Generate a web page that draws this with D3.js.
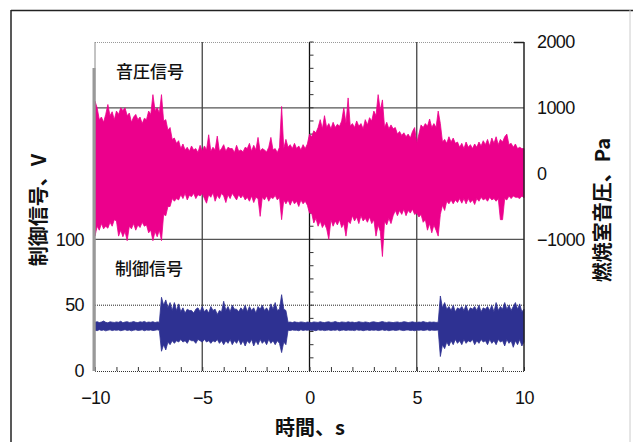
<!DOCTYPE html>
<html>
<head>
<meta charset="utf-8">
<script src="https://cdn.jsdelivr.net/npm/d3@7"></script>
<style>
  html, body { margin: 0; padding: 0; background: #fff; }
  svg { display: block; }
  .num { font-family: "Liberation Sans", Arial, sans-serif; font-size: 18px; fill: #111; letter-spacing: -0.6px; }
  .cjk { font-family: "Noto Sans CJK JP", sans-serif; fill: #111; }
</style>
</head>
<body>
<svg id="chart" width="633" height="442"></svg>
<script>
// ---- Data ----
const timeStart = -10;      // s
const timeStep = 0.1;       // s between samples

// Combustion chamber sound pressure envelope, Pa (upper / lower)
const pressureHigh = [
  1100, 1000, 820, 860, 780, 900, 1050, 880, 940, 820,
  950, 900, 1000, 960, 1000, 880, 920, 780, 860, 900,
  820, 860, 760, 840, 820, 950, 900, 1200, 960, 1000,
  920, 1200, 800, 820, 660, 700, 520, 540, 460, 500,
  380, 450, 360, 400, 340, 420, 360, 380, 320, 430,
  340, 420, 360, 590, 340, 400, 360, 570, 340, 380,
  440, 340, 400, 380, 380, 320, 430, 340, 360, 330,
  400, 380, 460, 340, 430, 360, 550, 340, 380, 360,
  330, 400, 550, 360, 380, 320, 400, 1020, 380, 520,
  400, 440, 380, 460, 380, 420, 360, 440, 380, 450,
  600, 560, 650, 620, 700, 820, 680, 880, 700, 760,
  680, 780, 700, 750, 720, 800, 1000, 760, 1150, 720,
  760, 700, 800, 720, 760, 680, 820, 740, 850, 800,
  950, 880, 1200, 960, 1120, 700, 780, 680, 740, 680,
  700, 600, 640, 580, 620, 560, 600, 540, 640, 700,
  460, 600, 740, 700, 760, 720, 830, 700, 760, 700,
  950, 760, 480, 520, 460, 560, 480, 540, 460, 480,
  400, 460, 380, 480, 400, 440, 380, 450, 400, 480,
  420, 500, 440, 520, 420, 540, 460, 560, 440, 520,
  480, 560, 600, 440, 460, 400, 450, 380, 400, 380,
  380
];
const pressureLow = [
  -950, -800, -860, -760, -840, -800, -830, -740, -800, -700,
  -720, -950, -860, -960, -880, -1020, -800, -840, -760, -860,
  -780, -820, -740, -800, -780, -900, -860, -1020, -880, -960,
  -860, -1020, -620, -640, -500, -500, -380, -420, -380, -400,
  -320, -380, -300, -400, -330, -350, -300, -380, -320, -340,
  -300, -380, -450, -320, -360, -290, -420, -330, -380, -300,
  -340, -440, -320, -380, -300, -350, -400, -320, -370, -330,
  -400, -360, -420, -340, -440, -360, -380, -650, -360, -400,
  -340, -420, -360, -380, -330, -400, -360, -700, -400, -460,
  -400, -480, -400, -460, -420, -500, -400, -460, -420, -480,
  -600, -600, -750, -680, -800, -720, -820, -760, -840, -1000,
  -700, -800, -720, -780, -700, -820, -760, -950, -720, -760,
  -640, -720, -660, -760, -640, -720, -680, -740, -660, -760,
  -700, -950, -780, -880, -1260, -720, -780, -680, -760, -640,
  -560, -640, -560, -620, -540, -640, -560, -600, -540, -620,
  -600, -660, -620, -740, -700, -860, -760, -900, -780, -860,
  -950, -620, -480, -560, -420, -460, -400, -460, -400, -440,
  -380, -450, -380, -460, -380, -440, -400, -470, -380, -420,
  -360, -400, -380, -420, -360, -400, -380, -420, -380, -700,
  -700, -380, -400, -340, -380, -340, -360, -360, -380, -340,
  -370
];

// Control signal envelope, V (upper / lower)
const controlHigh = [
  37, 37.5, 36.8, 37.2, 38, 37, 36.6, 37.4, 37.1, 36.9,
  37.3, 37, 37.8, 36.7, 37.2, 37.5, 36.9, 37.1, 37.6, 37,
  36.8, 37.4, 37.1, 37.7, 36.9, 37.2, 37, 37.5, 36.8, 37.3,
  37.1, 56, 50, 54, 48, 52, 46, 52, 46, 51,
  45, 48, 44, 47, 46, 46, 44, 47, 48, 45,
  49, 45, 47, 44, 49, 46, 47, 43, 46, 45,
  53, 46, 49, 45, 50, 47, 47, 45, 48, 46,
  50, 45, 49, 46, 48, 44, 49, 47, 50, 46,
  48, 45, 51, 47, 52, 46, 47, 58, 47, 46,
  37, 37.2, 36.8, 37.4, 37, 36.9, 37.3, 37.1, 36.7, 37.2,
  37, 36.8, 37.3, 37.1, 36.9, 37.5, 37, 36.8, 37.2, 37.4,
  36.9, 37.1, 37.6, 37, 36.8, 37.3, 37.1, 36.9, 37.4, 37,
  37.2, 36.8, 37, 37.5, 37.1, 36.9, 37.3, 37, 36.7, 37.2,
  37.4, 37, 36.8, 37.2, 37.6, 37.1, 36.9, 37.3, 37, 36.8,
  37.1, 37.3, 36.9, 37, 37.5, 37.2, 36.8, 37.1, 37.4, 37,
  36.9, 37.2, 37, 37.6, 37.1, 36.8, 37.3, 37, 37.2, 36.9,
  37.1, 57, 48, 52, 47, 49, 46, 50, 45, 48,
  47, 49, 46, 50, 45, 48, 47, 49, 46, 50,
  45, 48, 47, 49, 46, 50, 45, 52, 46, 49,
  47, 52, 47, 50, 46, 49, 52, 47, 51, 45,
  47
];
const controlLow = [
  31, 30.6, 31.4, 30.8, 31.2, 30.5, 31, 31.3, 30.7, 31.1,
  30.9, 31.2, 30.6, 31, 31.4, 30.8, 31.1, 30.5, 31, 31.3,
  30.8, 31, 31.3, 30.6, 31.1, 30.9, 31.2, 30.7, 31, 31.3,
  30.9, 15, 20, 16, 22, 20, 23, 21, 23, 22,
  24, 22, 23, 21, 24, 23, 23, 21, 24, 23,
  22, 24, 22, 23, 21, 23, 22, 24, 21, 23,
  20, 23, 21, 24, 20, 23, 21, 24, 20, 23,
  19, 23, 21, 24, 19, 23, 20, 24, 21, 23,
  20, 24, 21, 23, 20, 23, 21, 14, 22, 20,
  31, 30.7, 31.2, 30.9, 31, 30.6, 31.3, 30.8, 31.1, 30.9,
  31.2, 30.8, 31, 30.6, 31.3, 30.9, 31.1, 30.7, 31, 31.2,
  30.8, 31.1, 30.9, 31.3, 30.6, 31, 31.2, 30.8, 31.1, 30.9,
  31, 30.7, 31.3, 30.9, 31.1, 30.6, 31, 31.2, 30.8, 31.1,
  30.9, 31.2, 30.7, 31, 31.3, 30.8, 31.1, 30.6, 31, 31.2,
  30.8, 31, 31.3, 30.9, 30.7, 31.1, 31.2, 30.8, 31, 30.6,
  31.1, 30.9, 31.2, 30.8, 31, 31.3, 30.7, 31.1, 30.9, 31,
  31.2, 11, 20, 17, 22, 19, 23, 20, 24, 21,
  23, 20, 24, 21, 23, 22, 24, 20, 23, 21,
  24, 22, 23, 20, 24, 21, 23, 20, 24, 22,
  23, 19, 24, 21, 23, 18, 23, 20, 24, 19,
  22
];

const timeTicks = [-10, -5, 0, 5, 10];
const timeMinorTicks = d3.range(-10, 11, 1);
const voltTicks = [0, 50, 100];
const pressureTicks = [-1000, 0, 1000, 2000];

const xTitle = "時間、s";
const yLeftTitle = "制御信号、V";
const yRightTitle = "燃焼室音圧、Pa";
const pressureLabel = "音圧信号";
const controlLabel = "制御信号";

const pinkColor = "#ec008c";
const navyColor = "#2e3192";

// ---- Chart ----
const svg = d3.select("#chart");
const L = 95, R = 524, T = 42, B = 371;

const x = d3.scaleLinear().domain([-10, 10]).range([L, R]);
const yP = d3.scaleLinear().domain([-3000, 2000]).range([B, T]);
const yV = d3.scaleLinear().domain([0, 250]).range([B, T]);

const pData = pressureHigh.map((h, i) => ({ t: timeStart + i * timeStep, hi: h, lo: pressureLow[i] }));
const vData = controlHigh.map((h, i) => ({ t: timeStart + i * timeStep, hi: h, lo: controlLow[i] }));

// outer frame
svg.append("line").attr("x1", 11).attr("x2", 11).attr("y1", 10).attr("y2", 442).attr("stroke", "#222").attr("stroke-width", 1.5);
svg.append("line").attr("x1", 11).attr("x2", 633).attr("y1", 10.5).attr("y2", 10.5).attr("stroke", "#222").attr("stroke-width", 1.5);
svg.append("line").attr("x1", 630).attr("x2", 630).attr("y1", 10).attr("y2", 442).attr("stroke", "#ccc").attr("stroke-width", 1);

const g = svg.append("g");

// top border (dotted)
g.append("line").attr("x1", L).attr("x2", R).attr("y1", T + 0.5).attr("y2", T + 0.5)
  .attr("stroke", "#999").attr("stroke-dasharray", "1,1");

// horizontal grid lines
[1000, -1000].forEach(v => {
  g.append("line").attr("x1", L).attr("x2", R).attr("y1", yP(v)).attr("y2", yP(v))
    .attr("stroke", "#555").attr("stroke-width", 1.2);
});
g.append("line").attr("x1", L).attr("x2", R).attr("y1", yV(50)).attr("y2", yV(50))
  .attr("stroke", "#222").attr("stroke-width", 1).attr("stroke-dasharray", "1,1");

// vertical grid lines
[-5, 0, 5].forEach(t => {
  g.append("line").attr("x1", x(t)).attr("x2", x(t)).attr("y1", T).attr("y2", B)
    .attr("stroke", t === 0 ? "#111" : "#444").attr("stroke-width", 1.3);
});

// minor ticks along the x=0 line
const pMinor = d3.range(-1000, 2001, 200);
const vMinor = d3.range(10, 100, 10);
g.selectAll(".pm").data(pMinor).join("line")
  .attr("x1", x(0)).attr("x2", x(0) + 4).attr("y1", d => yP(d)).attr("y2", d => yP(d))
  .attr("stroke", "#333").attr("stroke-width", 1);
g.selectAll(".vm").data(vMinor).join("line")
  .attr("x1", x(0)).attr("x2", x(0) + 4).attr("y1", d => yV(d)).attr("y2", d => yV(d))
  .attr("stroke", "#333").attr("stroke-width", 1);

// data areas
const pArea = d3.area().x(d => x(d.t)).y0(d => yP(d.lo)).y1(d => yP(d.hi));
const vArea = d3.area().x(d => x(d.t)).y0(d => yV(d.lo)).y1(d => yV(d.hi));
g.append("path").datum(pData).attr("d", pArea).attr("fill", pinkColor).attr("stroke", pinkColor).attr("stroke-width", 0.8);
g.append("path").datum(vData).attr("d", vArea).attr("fill", navyColor).attr("stroke", navyColor).attr("stroke-width", 0.8);

// bottom axis line with minor ticks
const xMinor = d3.axisBottom(x).tickValues(timeMinorTicks).tickSize(-4).tickFormat("");
const xm = g.append("g").attr("transform", `translate(0,${B})`).call(xMinor);
xm.select(".domain").attr("stroke", "#333").attr("stroke-dasharray", "1,1");
xm.selectAll(".tick line").attr("stroke", "#333");

// left axis line (gray thick)
g.append("line").attr("x1", L).attr("x2", L).attr("y1", T).attr("y2", B).attr("stroke", "#888").attr("stroke-width", 1);
g.append("line").attr("x1", L - 1).attr("x2", L - 1).attr("y1", 68).attr("y2", B).attr("stroke", "#999").attr("stroke-width", 3);
// right axis line
g.append("line").attr("x1", R).attr("x2", R).attr("y1", T).attr("y2", B).attr("stroke", "#222").attr("stroke-width", 1.5);
g.append("line").attr("x1", R - 10).attr("x2", R).attr("y1", T + 0.5).attr("y2", T + 0.5).attr("stroke", "#222").attr("stroke-width", 1.5);

// tick labels
const numFmt = d3.format("d");
const xAx = d3.axisBottom(x).tickValues(timeTicks).tickSize(0).tickPadding(20).tickFormat(numFmt);
const xa = svg.append("g").attr("transform", `translate(0,${B})`).call(xAx);
xa.select(".domain").remove();
xa.selectAll("text").attr("class", "num").attr("font-size", null).attr("font-family", null).attr("fill", null);

const yLAx = d3.axisLeft(yV).tickValues(voltTicks).tickSize(0).tickPadding(11).tickFormat(numFmt);
const yla = svg.append("g").attr("transform", `translate(${L},0)`).call(yLAx);
yla.select(".domain").remove();
yla.selectAll("text").attr("class", "num").attr("font-size", null).attr("font-family", null).attr("fill", null);

const yRAx = d3.axisRight(yP).tickValues(pressureTicks).tickSize(0).tickPadding(13).tickFormat(numFmt);
const yra = svg.append("g").attr("transform", `translate(${R},0)`).call(yRAx);
yra.select(".domain").remove();
yra.selectAll("text").attr("class", "num").attr("font-size", null).attr("font-family", null).attr("fill", null);

// titles
svg.append("text").attr("class", "cjk").attr("x", 310).attr("y", 435)
  .attr("text-anchor", "middle").attr("font-size", 20).attr("font-weight", 700).text(xTitle);
svg.append("text").attr("class", "cjk").attr("transform", "translate(46,210) rotate(-90)")
  .attr("text-anchor", "middle").attr("font-size", 20).attr("font-weight", 700).text(yLeftTitle);
svg.append("text").attr("class", "cjk").attr("transform", "translate(610,210) rotate(-90)")
  .attr("text-anchor", "middle").attr("font-size", 20).attr("font-weight", 700).text(yRightTitle);

// inner labels
svg.append("text").attr("class", "cjk").attr("x", 116).attr("y", 78)
  .attr("font-size", 17).attr("font-weight", 500).text(pressureLabel);
svg.append("text").attr("class", "cjk").attr("x", 115).attr("y", 275)
  .attr("font-size", 17).attr("font-weight", 500).text(controlLabel);
</script>
</body>
</html>
